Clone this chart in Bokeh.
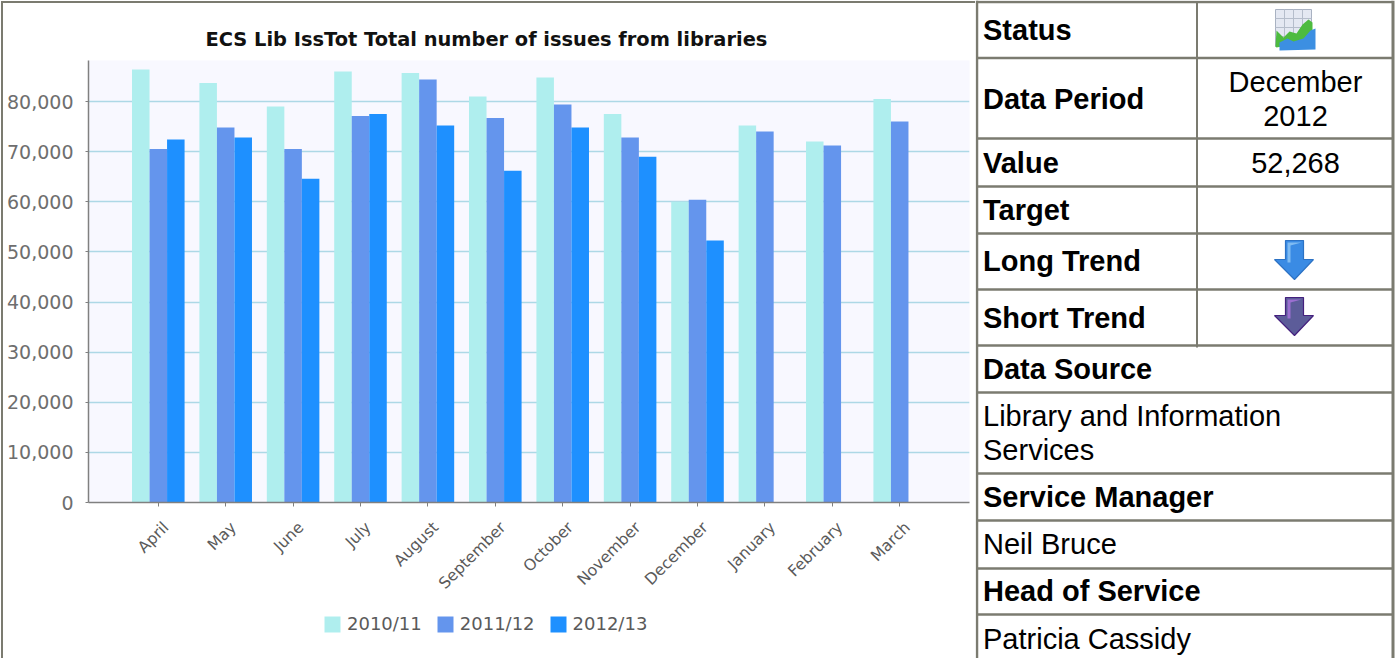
from bokeh.core.properties import value
from bokeh.embed import file_html
from bokeh.layouts import column, row
from bokeh.models import (Div, FixedTicker, Legend, LegendItem, LinearAxis,
                          NumeralTickFormatter, Range1d)
from bokeh.plotting import figure
from bokeh.resources import INLINE

months = ["April", "May", "June", "July", "August", "September", "October",
          "November", "December", "January", "February", "March"]
y2010 = [86400, 83700, 79000, 86000, 85700, 81000, 84800, 77500, 60000, 75200, 72000, 80500]
y2011 = [70500, 74800, 70500, 77100, 84400, 76700, 79400, 72800, 60400, 74000, 71200, 76000]
y2012 = [72400, 72800, 64600, 77500, 75200, 66200, 74800, 69000, 52268]
y_ticks = [0, 10000, 20000, 30000, 40000, 50000, 60000, 70000, 80000]
series_names = ["2010/11", "2011/12", "2012/13"]
series_colors = ["#AFEEEE", "#6495ED", "#1E90FF"]
BORDER = "#7B7B70"

CHART_W, CHART_H = 972, 604
LEGEND_H = 51
FRAME_L, FRAME_R, FRAME_T, FRAME_B = 85, 966, 57, 499
X_PAD = 0.5355
LABEL_SHIFT = 0.111  # month labels sit a little right of their ticks
tick_positions = [i + 0.5 for i in range(len(months))]

p = figure(width=CHART_W, height=CHART_H, output_backend="svg", toolbar_location=None,
           x_range=Range1d(-X_PAD, len(months) + X_PAD), y_range=Range1d(0, 88180),
           min_border_left=FRAME_L, min_border_right=CHART_W - FRAME_R,
           min_border_top=FRAME_T, min_border_bottom=CHART_H - FRAME_B)
p.frame_align = False
p.background_fill_color = "#F8F8FF"
p.outline_line_color = None
p.xgrid.grid_line_color = None
p.ygrid.grid_line_color = "#ADD8E6"
p.ygrid.grid_line_width = 1.5
p.ygrid.ticker = FixedTicker(ticks=y_ticks)

p.yaxis.ticker = FixedTicker(ticks=y_ticks)
p.yaxis.formatter = NumeralTickFormatter(format="0,0")
p.yaxis.major_label_text_font = "DejaVu Sans"
p.yaxis.major_label_text_font_size = "19px"
p.yaxis.major_label_text_color = "#6E6E6E"
p.yaxis.axis_line_color = "#808080"
p.yaxis.axis_line_width = 1.5
p.yaxis.major_tick_line_color = "#808080"
p.yaxis.major_tick_out = 3
p.yaxis.major_tick_in = 0
p.yaxis.minor_tick_line_color = None
p.yaxis.major_label_standoff = 12

# the main x axis draws the line and ticks; a second axis below carries the month names
p.xaxis.ticker = FixedTicker(ticks=tick_positions)
p.xaxis.major_label_overrides = {pos: "" for pos in tick_positions}
p.xaxis.major_label_text_font_size = "1px"
p.xaxis.major_label_standoff = 0
p.xaxis.axis_line_color = "#808080"
p.xaxis.axis_line_width = 1.5
p.xaxis.major_tick_line_color = "#808080"
p.xaxis.major_tick_out = 4
p.xaxis.major_tick_in = 0
p.xaxis.minor_tick_line_color = None

p.extra_x_ranges["month_labels"] = Range1d(-X_PAD - LABEL_SHIFT, len(months) + X_PAD - LABEL_SHIFT)
label_axis = LinearAxis(x_range_name="month_labels", ticker=FixedTicker(ticks=tick_positions),
                        major_label_overrides=dict(zip(tick_positions, months)),
                        major_label_orientation=0.785, major_label_text_font="DejaVu Sans",
                        major_label_text_font_size="15.7px", major_label_text_color="#5A5A5A",
                        major_label_standoff=12, axis_line_color=None, major_tick_line_color=None,
                        minor_tick_line_color=None)
p.add_layout(label_axis, "below")

bar_w = 0.26
for vals, color, off in zip([y2010, y2011, y2012], series_colors, [-bar_w, 0, bar_w]):
    src = {"x": [pos + off for pos in tick_positions[:len(vals)]], "v": vals}
    p.vbar(x="x", top="v", width=bar_w, source=src, fill_color=color, line_color=None)

p.title.text = "ECS Lib IssTot Total number of issues from libraries"
p.title.align = "left"
p.title.offset = 117
p.title.standoff = 20
p.title.text_font = "DejaVu Sans"
p.title.text_font_size = "19.4px"
p.title.text_color = "#111111"

# legend strip under the chart; its key glyphs lie beyond the strip's visible range
lg = figure(width=CHART_W, height=LEGEND_H, output_backend="svg", toolbar_location=None,
            x_range=Range1d(0, 1), y_range=Range1d(0, 1), min_border=0,
            outline_line_color=None, x_axis_type=None, y_axis_type=None)
lg.frame_align = False
lg.xgrid.grid_line_color = None
lg.ygrid.grid_line_color = None
items = []
for name, color in zip(series_names, series_colors):
    key = lg.quad(left=[2], right=[3], bottom=[2], top=[3], fill_color=color, line_color=None)
    items.append(LegendItem(label=name, renderers=[key]))
legend = Legend(items=items, orientation="horizontal", location=(319, 24),
                background_fill_alpha=0, border_line_color=None, spacing=13,
                label_text_font="DejaVu Sans", label_text_font_size="18px",
                label_text_color="#5A5A5A", glyph_width=20, glyph_height=20,
                label_standoff=5, padding=0, margin=0)
lg.add_layout(legend, "center")

# thin rules framing the chart cell on its top and left
top_rule = Div(width=CHART_W, height=2, margin=(1, 0, 0, 0), styles={"background-color": BORDER})
left_rule = Div(width=2, height=657, margin=(1, 0, 0, 1), styles={"background-color": BORDER})

# side table, drawn in page pixel coordinates
OX = 975
t = figure(width=1397 - OX, height=658, output_backend="svg", toolbar_location=None,
           x_range=Range1d(OX, 1397), y_range=Range1d(658, 0),
           min_border=0, outline_line_color=None, x_axis_type=None, y_axis_type=None)
t.frame_align = False
t.xgrid.grid_line_color = None
t.ygrid.grid_line_color = None

rules_y = [1.5, 57.5, 138, 186, 233, 289, 345, 392, 473, 520, 568, 614]
t.segment(x0=[976] * len(rules_y), x1=[1392] * len(rules_y), y0=rules_y, y1=rules_y,
          line_color=BORDER, line_width=2.5)
t.segment(x0=[976.5], x1=[976.5], y0=[0], y1=[658], line_color=BORDER, line_width=2.5)
t.segment(x0=[1196.5], x1=[1196.5], y0=[2], y1=[347], line_color=BORDER, line_width=2)
t.segment(x0=[1392.5], x1=[1392.5], y0=[0], y1=[658], line_color=BORDER, line_width=3)

bold_rows = [("Status", 29), ("Data Period", 98), ("Value", 162), ("Target", 209),
             ("Long Trend", 260), ("Short Trend", 317), ("Data Source", 368),
             ("Service Manager", 496), ("Head of Service", 590)]
plain_rows = [("Library and Information", 415), ("Services", 449), ("Neil Bruce", 543),
              ("Patricia Cassidy", 638)]
center_rows = [("December", 81), ("2012", 115), ("52,268", 162)]
font = value("Liberation Sans")
t.text(x=[982.5] * len(bold_rows), y=[r[1] for r in bold_rows], text=[r[0] for r in bold_rows],
       text_font=font, text_font_size="29px", text_font_style="bold",
       text_baseline="middle", text_color="#000000")
t.text(x=[982.5] * len(plain_rows), y=[r[1] for r in plain_rows], text=[r[0] for r in plain_rows],
       text_font=font, text_font_size="29px", text_baseline="middle", text_color="#000000")
t.text(x=[1295] * len(center_rows), y=[r[1] for r in center_rows], text=[r[0] for r in center_rows],
       text_font=font, text_font_size="29px", text_baseline="middle", text_align="center",
       text_color="#000000")

# status icon: small gridded chart with green and blue areas
t.quad(left=1275, right=1311, top=9, bottom=46, fill_color="#E4E8F2", line_color="#A9B2C2")
t.segment(x0=[1284, 1293, 1302, 1275, 1275, 1275], x1=[1284, 1293, 1302, 1311, 1311, 1311],
          y0=[9, 9, 9, 18, 27, 36], y1=[46, 46, 46, 18, 27, 36], line_color="#B5BDCB")
t.patch([1275, 1276, 1283, 1289, 1296, 1302, 1308, 1312, 1312, 1276],
        [46, 30, 37, 31, 33, 24, 19, 22, 40, 47], fill_color="#4DBB3F", line_color=None)
t.patch([1279, 1287, 1293, 1303, 1310, 1315, 1315, 1279],
        [42, 38, 41, 38, 30, 28, 49, 50], fill_color="#3C8FE2", line_color=None)


def arrow(top, shaft_y, tip, face, light, edge):
    t.patch([1285, 1303, 1303, 1313, 1294, 1274, 1285],
            [top, top, shaft_y, shaft_y, tip, shaft_y, shaft_y],
            fill_color=face, line_color=edge, line_width=1.2)
    t.patch([1287, 1301, 1290, 1290, 1287], [top + 2, top + 2, top + 5, shaft_y + 3, shaft_y + 3],
            fill_color=light, line_color=None)


arrow(240, 259, 279, "#3A8BE4", "#7FBBF2", "#2C72C4")
arrow(297, 315, 335, "#5C5C99", "#9A6FD0", "#44207E")

layout = row(left_rule, column(top_rule, p, lg, spacing=0), t, spacing=0)
open("out.html", "w").write(file_html(layout, INLINE))
